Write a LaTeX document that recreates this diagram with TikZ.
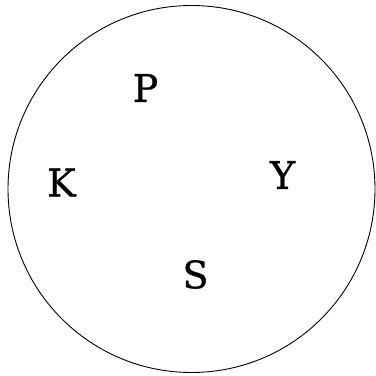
\documentclass[tikz,border=0pt]{standalone}
\usepackage{fontspec}
\setmainfont{DejaVu Serif}[FakeBold=0.8]
\begin{document}
\begin{tikzpicture}[x=1pt,y=1pt,
  lbl/.style={inner sep=0pt, font=\fontsize{38}{40}\selectfont}]
\useasboundingbox (0,0) rectangle (376,376);
\draw[line width=0.9pt] (191.5,187) circle (183.5);
\node[lbl] (p) at (145.5,288) {P};
\node[lbl] (k) at (61.5,193.5) {K};
\node[lbl] (y) at (282.5,201) {Y};
\node[lbl] (s) at (195.5,101.5) {S};
\end{tikzpicture}
\end{document}
